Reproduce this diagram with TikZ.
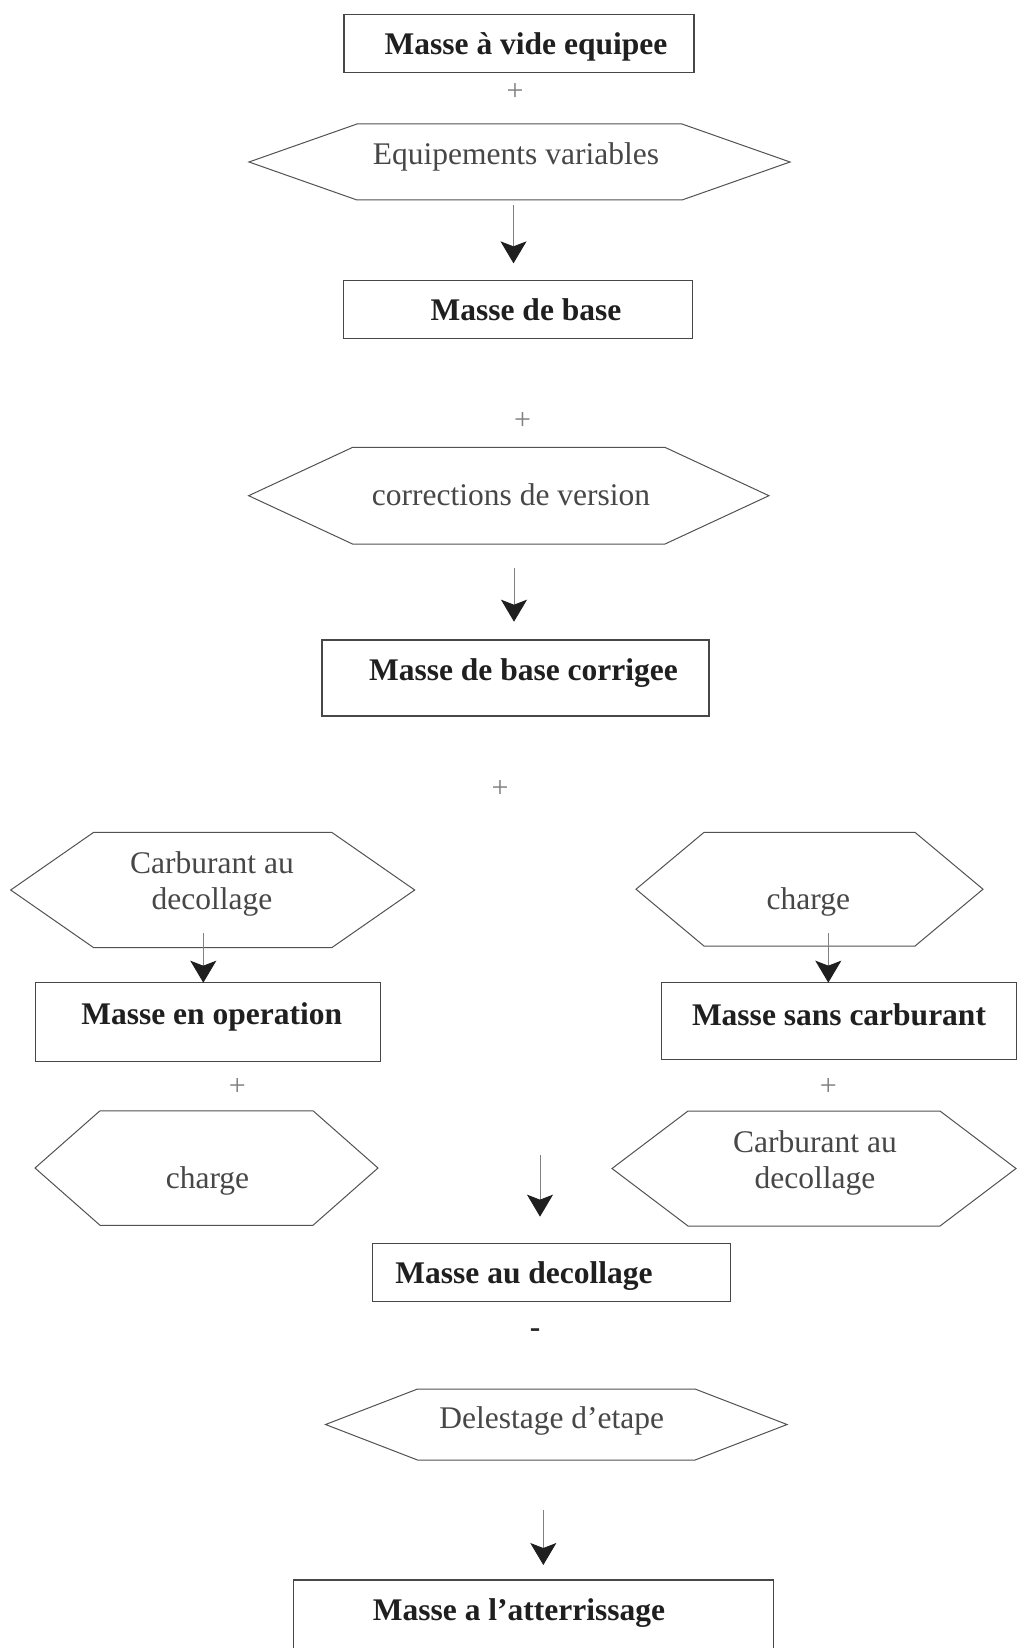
\documentclass[tikz,border=0pt]{standalone}
\usepackage{fontspec}
\setmainfont{Liberation Serif}
\usetikzlibrary{arrows.meta,calc}

% hexagonal frame around an (empty) node: flat top/bottom, pointed left/right
\newcommand\hexframe[2]{%
  \draw[hexline] (#1.north west) -- (#1.north east) -- ($(#1.east)+(#2,0)$)
    -- (#1.south east) -- (#1.south west) -- ($(#1.west)+(-#2,0)$) -- cycle;}

\begin{document}
\begin{tikzpicture}[x=1pt,y=-1pt,
  every node/.style={inner sep=0pt,outer sep=0pt},
  boxframe/.style={draw=black!72,line width=1.05pt},
  hexline/.style={draw=black!68,line width=1.0pt,line join=miter},
  boldlbl/.style={font=\fontsize{31.5}{36}\selectfont\bfseries,text=black!88,anchor=base},
  lbl/.style={font=\fontsize{31.5}{36}\selectfont,text=black!72,align=center},
  sign/.style={font=\fontsize{30}{34}\selectfont,text=black!50},
  arr/.style={draw=black!50,line width=0.9pt,
    -{Stealth[length=22pt,width=26pt,inset=5pt,color=black!88]}}]

\useasboundingbox (0,0) rectangle (1018,1648);
\fill[white] (0,0) rectangle (1018,1648);

% ---- rectangular boxes (results)
\node[boxframe,minimum width=350,minimum height=57.5] (b1) at (519,43.3) {};
\node[boldlbl] (t1) at (526,55) {Masse à vide equipee};

\node[boxframe,minimum width=349.3,minimum height=58.3] (b2) at (518.3,309.2) {};
\node[boldlbl] (t2) at (526,320) {Masse de base};

\node[boxframe,minimum width=387,minimum height=76] (b3) at (515.5,678) {};
\node[boldlbl] (t3) at (523.5,680) {Masse de base corrigee};

\node[boxframe,minimum width=345.3,minimum height=79] (b4L) at (208.3,1022.2) {};
\node[boldlbl] (t4L) at (211.7,1024) {Masse en operation};

\node[boxframe,minimum width=355.3,minimum height=77.3] (b4R) at (839.3,1021.3) {};
\node[boldlbl] (t4R) at (839,1025) {Masse sans carburant};

\node[boxframe,minimum width=358,minimum height=57.7] (b6) at (551.7,1272.8) {};
\node[boldlbl] (t6) at (524,1283.3) {Masse au decollage};

\node[boxframe,minimum width=480,minimum height=100] (b7) at (533.3,1630) {};
\node[boldlbl] (t7) at (519,1620) {Masse a l’atterrissage};

% ---- hexagons (additions / subtractions)
\node[minimum width=325,minimum height=76] (h1) at (519.5,162) {};
\hexframe{h1}{108}
\node[lbl,anchor=base] (l1) at (516,165) {Equipements variables};

\node[minimum width=312.3,minimum height=96.7] (h2) at (508.8,495.7) {};
\hexframe{h2}{104}
\node[lbl,anchor=base] (l2) at (511,505) {corrections de version};

\node[minimum width=238,minimum height=115.4] (h3L) at (212.7,890) {};
\hexframe{h3L}{83}
\node[lbl] (l3L) at (212,883.5) {Carburant au\\decollage};

\node[minimum width=211,minimum height=113.7] (h3R) at (809.5,889.2) {};
\hexframe{h3R}{68}
\node[lbl,anchor=base] (l3R) at (808.3,909) {charge};

\node[minimum width=213,minimum height=114.5] (h5L) at (206.5,1168) {};
\hexframe{h5L}{65}
\node[lbl,anchor=base] (l5L) at (207.5,1188.3) {charge};

\node[minimum width=252,minimum height=115] (h5R) at (814,1168.5) {};
\hexframe{h5R}{76}
\node[lbl] (l5R) at (815,1163) {Carburant au\\decollage};

\node[minimum width=277.5,minimum height=71] (h6) at (556.3,1424.5) {};
\hexframe{h6}{92}
\node[lbl,anchor=base] (l6) at (551.7,1428.3) {Delestage d’etape};

% ---- operation signs
\node[sign] (p1) at (515,91.7) {+};
\node[sign] (p2) at (522.6,421) {+};
\node[sign] (p3) at (500,789) {+};
\node[sign] (p4L) at (237.3,1086.7) {+};
\node[sign] (p4R) at (828.3,1086.7) {+};
\node[font=\fontsize{31.5}{36}\selectfont\bfseries,text=black!85] (m6) at (535,1333) {-};

% ---- arrows
\draw[arr] ($(h1.south)+(-6,5)$) -- ($(b2.north)+(-4.8,-16.7)$);
\draw[arr] ($(h2.south)+(5.2,24.3)$) -- ($(b3.north)+(-1.5,-18.3)$);
\draw[arr] ($(h3L.south)+(-9.4,-14.4)$) -- ($(b4L.north)+(-5,0)$);
\draw[arr] ($(h3R.south)+(18.8,-13)$) -- ($(b4R.north)+(-11,0)$);
\coordinate (a5) at (540,1155);
\draw[arr] (a5) -- ($(b6.north)+(-11.7,-27.3)$);
\draw[arr] ($(h6.south)+(-13,50)$) -- ($(b7.north)+(10,-15)$);
\end{tikzpicture}
\end{document}
